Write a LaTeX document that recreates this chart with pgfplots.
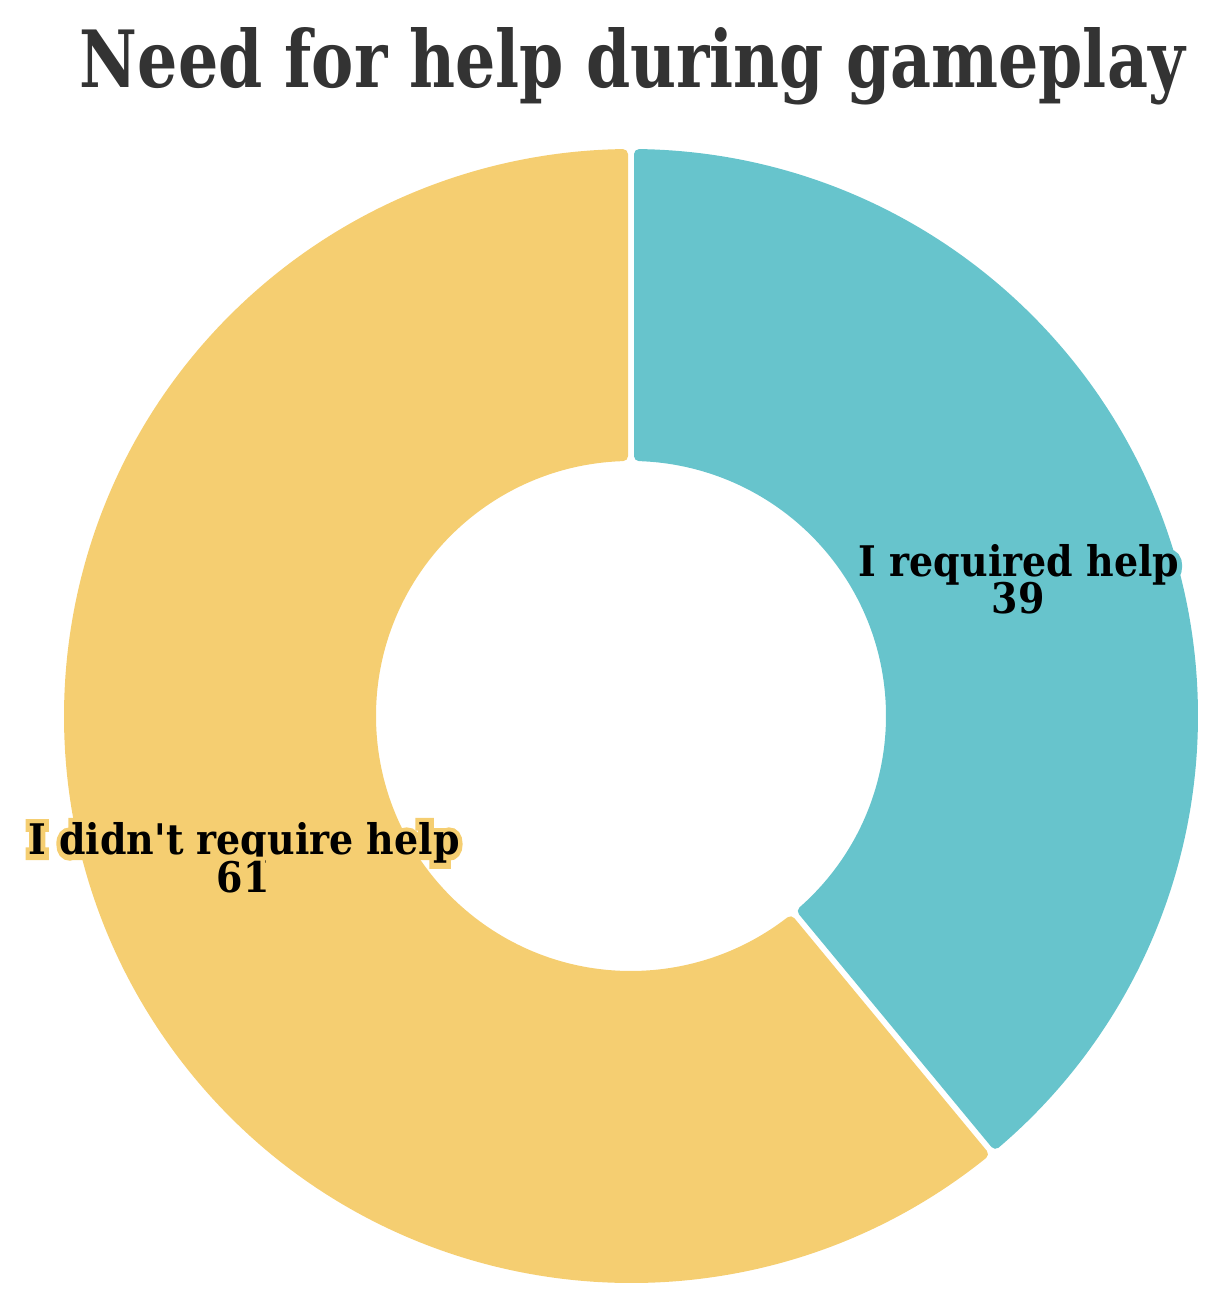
\documentclass[border=0pt]{standalone}
\usepackage{pgfplots}
\pgfplotsset{compat=1.18}
\usepackage{pgfplotstable}
\usepackage{fontspec}
\setmainfont{DejaVu Serif}[Ligatures=TeXOff]
% stroked copy of the bold face, used as a halo behind the labels
\newfontfamily\halofont{DejaVu Serif}[Ligatures=TeXOff, FakeBold=24]

\definecolor{helpteal}{HTML}{67C4CC}
\definecolor{helpyellow}{HTML}{F5CE71}
\definecolor{titlegray}{HTML}{333333}

\newcommand\halotext[2]{\leavevmode\rlap{\color{#1}\halofont\bfseries #2}#2}

% answers to "did you need help"
\pgfplotstableread{
answer value
required 39
notrequired 61
}\helpdata

\pgfplotstablegetelem{0}{value}\of\helpdata \let\vReq\pgfplotsretval
\pgfplotstablegetelem{1}{value}\of\helpdata \let\vNot\pgfplotsretval
\pgfmathsetmacro\aMid{90-360*\vReq/(\vReq+\vNot)}
\pgfmathsetmacro\aEnd{90-360}

% visible radii 5.67 / 2.55, gap 0.06, corner radius 0.05
\def\Ro{5.62}
\def\Ri{2.60}
\def\dd{0.08}
\pgfmathsetmacro\tOut{asin(\dd/\Ro)}
\pgfmathsetmacro\tIn{asin(\dd/\Ri)}

\begin{document}
\begin{tikzpicture}
\begin{axis}[
    x=1cm, y=1cm,
    xmin=-6.31, xmax=5.96,
    ymin=-5.84, ymax=7.16,
    hide axis, clip=false,
    scale only axis,
]
\coordinate (bl) at (axis cs:-6.31,-5.84);
\coordinate (tr) at (axis cs:5.96,7.16);

% slices: inset path, stroked in its own colour with round joins
\pgfmathsetmacro\sA{90-\tOut}\pgfmathsetmacro\sB{\aMid+\tOut}
\pgfmathsetmacro\iA{90-\tIn}\pgfmathsetmacro\iB{\aMid+\tIn}
\filldraw[fill=helpteal, draw=helpteal, line width=0.10cm, line join=round]
    (axis cs:{\Ro*cos(\sA)},{\Ro*sin(\sA)})
    arc[start angle=\sA, end angle=\sB, radius=\Ro cm]
    -- (axis cs:{\Ri*cos(\iB)},{\Ri*sin(\iB)})
    arc[start angle=\iB, end angle=\iA, radius=\Ri cm] -- cycle;
\pgfmathsetmacro\sC{\aMid-\tOut}\pgfmathsetmacro\sD{\aEnd+\tOut}
\pgfmathsetmacro\iC{\aMid-\tIn}\pgfmathsetmacro\iD{\aEnd+\tIn}
\filldraw[fill=helpyellow, draw=helpyellow, line width=0.10cm, line join=round]
    (axis cs:{\Ro*cos(\sC)},{\Ro*sin(\sC)})
    arc[start angle=\sC, end angle=\sD, radius=\Ro cm]
    -- (axis cs:{\Ri*cos(\iD)},{\Ri*sin(\iD)})
    arc[start angle=\iD, end angle=\iC, radius=\Ri cm] -- cycle;

% title
\node[anchor=base, text=titlegray, inner sep=0pt] at (axis cs:0.015,6.28)
    {\resizebox{11.05cm}{0.60cm}{\bfseries Need for help during gameplay}};

% slice labels
\tikzset{lbl/.style={anchor=base, inner sep=0pt, font=\fontsize{12}{14}\selectfont\bfseries}}
\node[lbl] at (axis cs:3.88,1.39) {\scalebox{0.90}[1]{\halotext{helpteal}{I required help}}};
\node[lbl] at (axis cs:3.87,1.02) {\scalebox{0.90}[1]{\halotext{helpteal}{\vReq}}};
\node[lbl] at (axis cs:-3.87,-1.39) {\scalebox{0.90}[1]{\halotext{helpyellow}{I didn't require help}}};
\node[lbl] at (axis cs:-3.88,-1.77) {\scalebox{0.90}[1]{\halotext{helpyellow}{\vNot}}};
\end{axis}
\pgfresetboundingbox
\useasboundingbox (bl) rectangle (tr);
\end{tikzpicture}
\end{document}
